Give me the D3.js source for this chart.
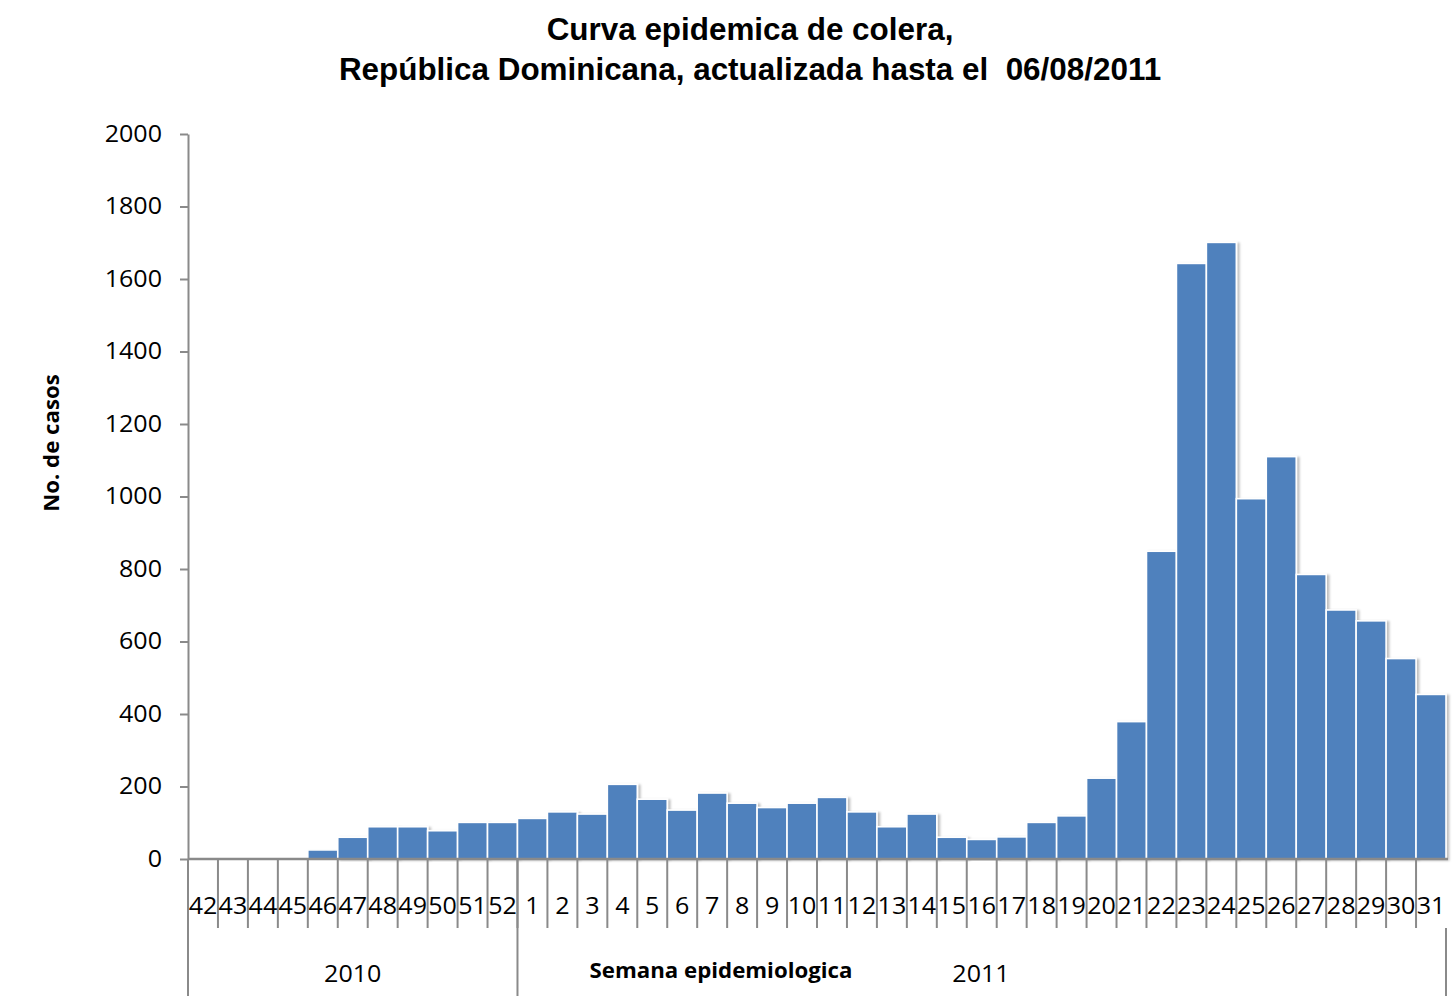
<!DOCTYPE html>
<html>
<head>
<meta charset="utf-8">
<script src="https://cdn.jsdelivr.net/npm/d3@7"></script>
<style>
  body { margin: 0; background: #fff; }
  svg { display: block; }
</style>
</head>
<body>
<div id="chart"></div>
<script>
// weeks, year they belong to, and case counts
const weeks2010 = ["42","43","44","45","46","47","48","49","50","51","52"];
const weeks2011 = ["1","2","3","4","5","6","7","8","9","10","11","12","13","14","15","16",
                   "17","18","19","20","21","22","23","24","25","26","27","28","29","30","31"];
const cases2010 = [0, 1, 2, 2, 25, 60, 89, 89, 78, 101, 101];
const cases2011 = [112, 130, 124, 206, 165, 135, 182, 154, 142, 154, 170, 130, 89, 124, 60, 54,
                   61, 101, 119, 223, 379, 849, 1643, 1701, 994, 1110, 785, 687, 657, 553, 454];
const yTicks = [0, 200, 400, 600, 800, 1000, 1200, 1400, 1600, 1800, 2000];
const years = ["2010", "2011"];

const data = weeks2010.map((w, i) => ({key: "2010-" + w, week: w, year: "2010", value: cases2010[i]}))
  .concat(weeks2011.map((w, i) => ({key: "2011-" + w, week: w, year: "2011", value: cases2011[i]})));

const width = 1454, height = 996;
const margin = {top: 134, right: 8, bottom: 137, left: 188};
const innerW = width - margin.left - margin.right;
const innerH = height - margin.top - margin.bottom;
const axisColor = "#8a8a8a";
const tickFont = "'Open Sans', sans-serif";
const stretch = 1.09;   // labels in the original are a bit wider than Open Sans

const svg = d3.select("#chart").append("svg")
    .attr("width", width)
    .attr("height", height);

const defs = svg.append("defs");
const shadow = defs.append("filter").attr("id", "shadow")
    .attr("x", "-10%").attr("y", "-10%").attr("width", "130%").attr("height", "120%");
shadow.append("feDropShadow")
    .attr("dx", 2.5).attr("dy", 1).attr("stdDeviation", 1.2)
    .attr("flood-color", "#000").attr("flood-opacity", 0.25);

// title
const title = svg.append("text")
    .attr("transform", "translate(750, 0) scale(1.03, 1)")
    .attr("text-anchor", "middle")
    .attr("font-family", "'Liberation Sans', Arial, sans-serif")
    .attr("font-weight", "bold")
    .attr("font-size", 30.5)
    .attr("fill", "#000");
title.append("tspan").attr("x", 0).attr("y", 40).text("Curva epidemica de colera,");
title.append("tspan").attr("x", 0).attr("y", 80).text("República Dominicana, actualizada hasta el\u00a0\u00a006/08/2011");

const g = svg.append("g")
    .attr("transform", `translate(${margin.left}, ${margin.top})`);

const xScale = d3.scaleBand()
    .domain(data.map(d => d.key))
    .range([0, innerW])
    .padding(0);

const yScale = d3.scaleLinear()
    .domain([0, 2000])
    .range([innerH, 0]);

// y axis
const yAxis = g.append("g")
    .call(d3.axisLeft(yScale).tickValues(yTicks).tickFormat(d3.format("d"))
      .tickSize(8).tickSizeOuter(0));
yAxis.select(".domain").attr("stroke", axisColor).attr("stroke-width", 2);
yAxis.selectAll(".tick line").attr("stroke", axisColor).attr("stroke-width", 2);
yAxis.selectAll(".tick text")
    .attr("x", 0)
    .attr("transform", `translate(-26, 0) scale(${stretch}, 1)`)
    .attr("font-family", tickFont)
    .attr("font-size", 23)
    .attr("fill", "#000");

// bars
g.selectAll("rect.bar")
  .data(data)
  .enter().append("rect")
    .attr("class", "bar")
    .attr("x", d => xScale(d.key))
    .attr("y", d => yScale(d.value))
    .attr("width", xScale.bandwidth())
    .attr("height", d => innerH - yScale(d.value))
    .attr("fill", "#4f81bd")
    .attr("stroke", "#fff")
    .attr("stroke-width", 1.6)
    .attr("filter", d => d.value > 0 ? "url(#shadow)" : null);

// x axis: baseline, ticks between weeks, week labels
const xAxis = g.append("g").attr("transform", `translate(0, ${innerH})`);
const tickLen = 69;
const boundaries = data.map(d => xScale(d.key));

xAxis.append("line")
    .attr("x1", 0).attr("x2", innerW + 2)
    .attr("stroke", axisColor).attr("stroke-width", 2.5);

xAxis.selectAll("line.wtick")
  .data(boundaries.slice(1))
  .enter().append("line")
    .attr("class", "wtick")
    .attr("x1", d => d).attr("x2", d => d)
    .attr("y1", 0).attr("y2", tickLen)
    .attr("stroke", axisColor).attr("stroke-width", 2);

xAxis.selectAll("text.week")
  .data(data)
  .enter().append("text")
    .attr("class", "week")
    .attr("transform", d => `translate(${xScale(d.key) + xScale.bandwidth() / 2}, 55) scale(${stretch}, 1)`)
    .attr("text-anchor", "middle")
    .attr("font-family", tickFont)
    .attr("font-size", 23)
    .attr("fill", "#000")
    .text(d => d.week);

// year groups
const yearSpan = years.map(y => {
  const keys = data.filter(d => d.year === y).map(d => d.key);
  const x0 = xScale(keys[0]);
  const x1 = xScale(keys[keys.length - 1]) + xScale.bandwidth();
  return {year: y, x0, x1};
});
const yearLines = [0, yearSpan[1].x0, innerW];

xAxis.selectAll("line.ysep")
  .data(yearLines)
  .enter().append("line")
    .attr("class", "ysep")
    .attr("x1", d => d).attr("x2", d => d)
    .attr("y1", (d, i) => i === 2 ? tickLen : 0)
    .attr("y2", margin.bottom)
    .attr("stroke", axisColor).attr("stroke-width", 2);

xAxis.selectAll("text.year")
  .data(yearSpan)
  .enter().append("text")
    .attr("class", "year")
    .attr("transform", (d, i) => `translate(${i === 0 ? (d.x0 + d.x1) / 2 : 793}, 123) scale(${stretch}, 1)`)
    .attr("text-anchor", "middle")
    .attr("font-family", tickFont)
    .attr("font-size", 23)
    .attr("fill", "#000")
    .text(d => d.year);

// axis titles
svg.append("text")
    .attr("transform", "translate(721, 978) scale(1.06, 1)")
    .attr("text-anchor", "middle")
    .attr("font-family", tickFont)
    .attr("font-weight", "bold")
    .attr("font-size", 21)
    .attr("fill", "#000")
    .text("Semana epidemiologica");

svg.append("text")
    .attr("transform", "translate(59, 443) rotate(-90) scale(1.06, 1)")
    .attr("text-anchor", "middle")
    .attr("font-family", tickFont)
    .attr("font-weight", "bold")
    .attr("font-size", 21)
    .attr("fill", "#000")
    .text("No. de casos");
</script>
</body>
</html>
